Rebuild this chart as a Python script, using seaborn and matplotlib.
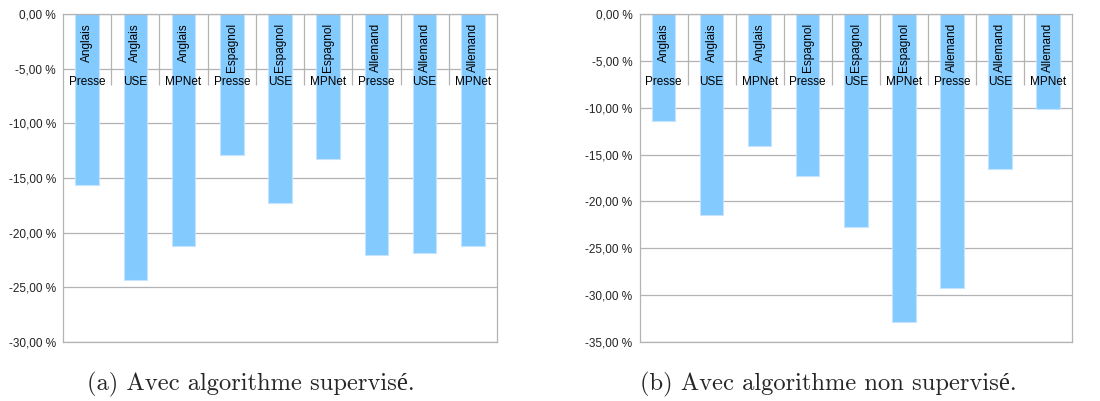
import pandas as pd
import matplotlib
matplotlib.use("Agg")
import matplotlib.pyplot as plt
import seaborn as sns
from matplotlib.ticker import FuncFormatter, MultipleLocator

langues = ["Anglais", "Anglais", "Anglais",
           "Espagnol", "Espagnol", "Espagnol",
           "Allemand", "Allemand", "Allemand"]
modeles = ["Presse", "USE", "MPNet"] * 3
supervise = [-15.6, -24.3, -21.2, -12.9, -17.3, -13.3, -22.0, -21.9, -21.2]
non_supervise = [-11.4, -21.5, -14.1, -17.3, -22.7, -32.9, -29.2, -16.5, -10.1]
legendes = ["(a) Avec algorithme supervisé.",
            "(b) Avec algorithme non supervisé."]
ylims = [-30, -35]

BLEU = "#83caff"
GRIS = "#b3b3b3"


def fmt_pct(v, pos):
    return "{:.2f} %".format(v).replace(".", ",")


def draw(ax, values, ymin):
    df = pd.DataFrame({
        "combo": [f"{l} {m}" for l, m in zip(langues, modeles)],
        "valeur": values,
    })
    sns.barplot(data=df, x="combo", y="valeur", color=BLEU, width=0.49,
                edgecolor="#c4e4ff", linewidth=0.8, saturation=1, ax=ax,
                zorder=2)
    ax.set_ylim(ymin, 0)
    ax.set_xlim(-0.5, len(values) - 0.5)
    ax.yaxis.set_major_locator(MultipleLocator(5))
    ax.yaxis.set_major_formatter(FuncFormatter(fmt_pct))
    ax.grid(axis="y", color=GRIS, linewidth=0.9, zorder=0)
    ax.grid(axis="x", visible=False)
    ax.set_axisbelow(True)
    ax.set_xlabel("")
    ax.set_ylabel("")
    ax.set_xticks([])
    ax.tick_params(axis="y", length=3, color=GRIS, labelsize=8.5,
                   labelcolor="#222222", pad=2)
    for sp in ax.spines.values():
        sp.set_color(GRIS)
        sp.set_linewidth(0.9)
        sp.set_visible(True)

    # separateurs de categories sous l'axe (en haut)
    trans = ax.get_xaxis_transform()
    sep_bas = 1 - 71 / 328
    ax.vlines([i + 0.5 for i in range(len(values) - 1)], sep_bas, 1,
              transform=trans, color=GRIS, linewidth=0.9, zorder=1)
    for i, (l, m) in enumerate(zip(langues, modeles)):
        ax.text(i, 1 - 9 / 328, l, transform=trans, rotation=90,
                ha="center", va="top", fontsize=8.5, color="black", zorder=3)
        ax.text(i, 1 - 68 / 328, m, transform=trans, ha="center",
                va="center", fontsize=8.5, color="black", zorder=3)


def main():
    sns.set_style("white")
    plt.rcParams["font.family"] = ["Liberation Sans", "DejaVu Sans"]

    fig = plt.figure(figsize=(11, 4.01), dpi=100)
    ax1 = fig.add_axes([63 / 1100, 59 / 401, 434 / 1100, 328 / 401])
    ax2 = fig.add_axes([639.5 / 1100, 59 / 401, 432.5 / 1100, 328 / 401])

    draw(ax1, supervise, ylims[0])
    draw(ax2, non_supervise, ylims[1])

    fig.text(251 / 1100, 17 / 401, legendes[0], ha="center", va="center",
             fontsize=17.7, family=["cmr10", "Liberation Serif"])
    fig.text(828 / 1100, 17 / 401, legendes[1], ha="center", va="center",
             fontsize=17.7, family=["cmr10", "Liberation Serif"])

    fig.savefig("out.png", dpi=100)


if __name__ == "__main__":
    main()
